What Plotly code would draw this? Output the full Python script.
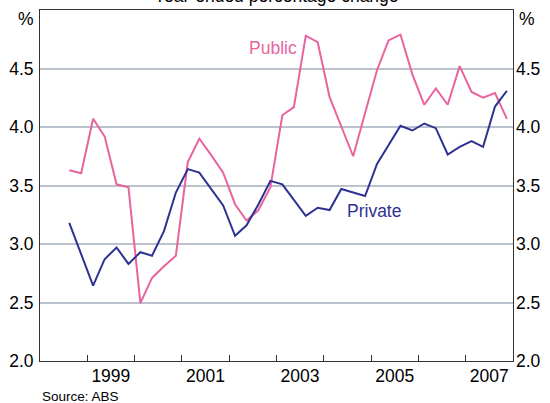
import plotly.graph_objects as go
import pandas as pd

# Quarterly data, Sep qtr 1998 .. Dec qtr 2007 (plotted mid-quarter)
quarters = pd.date_range("1998-08-01", periods=38, freq="3MS") + pd.Timedelta(days=14)

public = [3.63, 3.605, 4.07, 3.92, 3.51, 3.485, 2.495, 2.71, 2.81, 2.90,
          3.70, 3.90, 3.76, 3.61, 3.34, 3.20, 3.29, 3.485, 4.10, 4.17,
          4.78, 4.725, 4.255, 4.00, 3.75, 4.12, 4.485, 4.74, 4.79, 4.45,
          4.19, 4.33, 4.19, 4.52, 4.30, 4.25, 4.29, 4.07]

private = [3.18, 2.91, 2.645, 2.87, 2.97, 2.83, 2.93, 2.90, 3.11, 3.44,
           3.64, 3.61, 3.47, 3.33, 3.07, 3.16, 3.34, 3.54, 3.51, 3.38,
           3.24, 3.31, 3.29, 3.47, 3.44, 3.41, 3.685, 3.85, 4.01, 3.97,
           4.03, 3.99, 3.765, 3.83, 3.88, 3.83, 4.175, 4.31]

y_ticks = [2.0, 2.5, 3.0, 3.5, 4.0, 4.5]
y_ticktext = ["2.0", "2.5", "3.0", "3.5", "4.0", "4.5"]
year_ticks = [f"{y}-01-01" for y in range(1999, 2008)]
year_labels = ["1999", "2001", "2003", "2005", "2007"]
year_label_pos = [f"{y}-07-02" for y in year_labels]

PINK = "#E8649E"
NAVY = "#2E3192"
FONT = "Liberation Sans, Arial, sans-serif"
FS = 17.5

fig = go.Figure()
fig.add_trace(go.Scatter(x=quarters, y=public, mode="lines", line=dict(color=PINK, width=2), showlegend=False))
fig.add_trace(go.Scatter(x=quarters, y=private, mode="lines", line=dict(color=NAVY, width=2), showlegend=False))
# invisible trace for secondary axes
fig.add_trace(go.Scatter(x=[quarters[0]], y=[None], yaxis="y2", xaxis="x2", showlegend=False, hoverinfo="skip"))

xrange = ["1998-01-01", "2008-01-01"]
fig.update_layout(
    width=550, height=403,
    margin=dict(l=40, r=37, t=10, b=42, autoexpand=False),
    paper_bgcolor="white", plot_bgcolor="white",
    font=dict(family=FONT, size=FS, color="black"),
    xaxis=dict(type="date", range=xrange, tickvals=year_ticks, ticktext=[""] * len(year_ticks),
               ticks="inside", ticklen=6, tickcolor="#333", showgrid=False, automargin=False,
               showline=True, linecolor="#333", linewidth=1, mirror=True, zeroline=False),
    xaxis2=dict(type="date", range=xrange, overlaying="x", side="bottom", tickvals=year_label_pos,
                ticktext=year_labels, ticks="", showgrid=False, showline=False, zeroline=False,
                anchor="y", automargin=False, ticklabelstandoff=2),
    yaxis=dict(range=[2, 5], tickvals=y_ticks, ticktext=y_ticktext, showgrid=True, automargin=False,
               gridcolor="#BCC1CE", gridwidth=1.5, showline=True, linecolor="#333", linewidth=1,
               mirror=True, zeroline=False, ticks="", ticklabelstandoff=2),
    yaxis2=dict(range=[2, 5], tickvals=y_ticks, ticktext=y_ticktext, overlaying="y", side="right",
                showgrid=False, zeroline=False, ticks="", anchor="x", automargin=False,
                ticklabelstandoff=2),
    annotations=[
        dict(text="Year-ended percentage change", xref="paper", yref="paper", x=0.5, y=1,
             yanchor="bottom", yshift=2, showarrow=False, font=dict(size=FS)),
        dict(text="%", xref="paper", yref="y", x=0, y=4.92, xanchor="right", xshift=-4,
             showarrow=False, font=dict(size=FS)),
        dict(text="%", xref="paper", yref="y", x=1, y=4.92, xanchor="left", xshift=4,
             showarrow=False, font=dict(size=FS)),
        dict(text="Public", xref="x", yref="y", x="2002-12-05", y=4.675, showarrow=False,
             font=dict(size=FS, color=PINK)),
        dict(text="Private", xref="x", yref="y", x="2005-01-20", y=3.286, showarrow=False,
             font=dict(size=FS, color=NAVY)),
        dict(text="Source: ABS", xref="paper", yref="paper", x=0, y=0, xanchor="left",
             yanchor="top", yshift=-26, showarrow=False, font=dict(size=13.5)),
    ],
)
fig.write_html("out.html", config={"displayModeBar": False},
               post_script="document.body.style.margin='0';")
